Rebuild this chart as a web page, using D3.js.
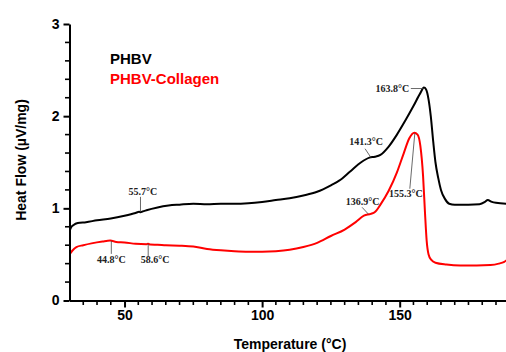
<!DOCTYPE html>
<html>
<head>
<meta charset="utf-8">
<script src="https://cdn.jsdelivr.net/npm/d3@7"></script>
<style>
  html, body { margin: 0; padding: 0; background: #fff; }
  svg { display: block; }
</style>
</head>
<body>
<svg id="chart" width="506" height="352"></svg>
<script>
// ---- data ----
const phbvT = [30, 30.5, 31.5, 33, 36, 40, 45, 50, 54, 55.3, 55.8, 56.5, 58, 62, 66, 70, 75, 80, 85, 90, 95, 100, 105, 110, 115, 120, 125, 128, 132, 136, 139, 141, 143, 146, 149, 152, 155, 157.5, 158.8, 159.6, 160.5, 161.3, 162.2, 163, 164, 165, 166.5, 168, 170, 175, 179, 181, 182, 183.5, 185, 189];
const phbvV = [0.75, 0.79, 0.82, 0.84, 0.85, 0.87, 0.89, 0.92, 0.95, 0.962, 0.958, 0.965, 0.98, 1.01, 1.03, 1.04, 1.05, 1.045, 1.05, 1.05, 1.056, 1.07, 1.09, 1.11, 1.14, 1.18, 1.25, 1.30, 1.40, 1.50, 1.55, 1.56, 1.58, 1.67, 1.80, 1.95, 2.11, 2.25, 2.31, 2.29, 2.18, 2.0, 1.72, 1.50, 1.33, 1.20, 1.10, 1.05, 1.04, 1.04, 1.045, 1.07, 1.09, 1.07, 1.06, 1.05];

const collT = [30, 31, 32.5, 35, 38, 42, 44.8, 47, 50, 54, 58, 58.6, 59.3, 62, 65, 70, 75, 80, 85, 90, 95, 100, 105, 110, 115, 120, 125, 130, 134, 137, 139.5, 141, 143, 146, 149, 151.5, 153.5, 155.3, 156.5, 157.5, 158.5, 159.2, 159.8, 160.5, 161.5, 163, 167, 172, 178, 183, 186, 188, 189];
const collV = [0.50, 0.54, 0.58, 0.60, 0.62, 0.64, 0.65, 0.635, 0.63, 0.615, 0.61, 0.617, 0.608, 0.605, 0.60, 0.595, 0.585, 0.56, 0.545, 0.535, 0.53, 0.53, 0.535, 0.55, 0.58, 0.625, 0.70, 0.77, 0.85, 0.92, 0.94, 0.96, 1.04, 1.19, 1.39, 1.60, 1.76, 1.82, 1.80, 1.68, 1.35, 0.95, 0.65, 0.50, 0.44, 0.41, 0.39, 0.38, 0.38, 0.385, 0.40, 0.42, 0.44];

const seriesNames = ["PHBV", "PHBV-Collagen"];
const xMajorTicks = [50, 100, 150];
const yMajorTicks = [0, 1, 2, 3];

const annLabels = ["55.7°C", "44.8°C", "58.6°C", "141.3°C", "163.8°C", "136.9°C", "155.3°C"];
const annT = [55.8, 45.2, 58.6, 139.6, 158.6, 138.7, 155.5];
const annV = [0.965, 0.647, 0.614, 1.549, 2.30, 0.935, 1.815];

// ---- layout ----
const W = 506, H = 352;
const svg = d3.select("#chart");
const x = d3.scaleLinear().domain([30, 189]).range([69.5, 507]);
const y = d3.scaleLinear().domain([0, 3]).range([300.5, 24]);

// annotation offsets (leader end dx,dy ; text dx,dy ; anchor)
const annLayout = [
  {lx: 0, ly: -14.7, tx: 2.5, ty: -17, a: "middle"},
  {lx: 0, ly: 13, tx: 0, ty: 22, a: "middle"},
  {lx: 0, ly: 13, tx: 7, ty: 19, a: "middle"},
  {lx: -6, ly: -9, tx: -5, ty: -12.5, a: "middle"},
  {lx: -12.5, ly: 0, tx: -14, ty: 3, a: "end"},
  {lx: -6.5, ly: -7, tx: -6, ty: -9.5, a: "middle"},
  {lx: -5, ly: 55.5, tx: -9, ty: 63.5, a: "middle"}
];

const font = "'Liberation Sans', Arial, sans-serif";

// curves
svg.append("clipPath").attr("id", "clip")
  .append("rect").attr("x", 69).attr("y", 0).attr("width", W - 69).attr("height", 301);

const line = d3.line().x(d => x(d[0])).y(d => y(d[1])).curve(d3.curveMonotoneX);
const g = svg.append("g").attr("clip-path", "url(#clip)");
g.append("path").datum(phbvT.map((t, i) => [t, phbvV[i]]))
  .attr("d", line).attr("fill", "none").attr("stroke", "#000").attr("stroke-width", 2)
  .attr("stroke-linejoin", "round");
g.append("path").datum(collT.map((t, i) => [t, collV[i]]))
  .attr("d", line).attr("fill", "none").attr("stroke", "#ff0000").attr("stroke-width", 2)
  .attr("stroke-linejoin", "round");

// annotations
annLabels.forEach((lab, i) => {
  const ax = x(annT[i]), ay = y(annV[i]);
  const L = annLayout[i];
  svg.append("line")
    .attr("x1", ax).attr("y1", ay).attr("x2", ax + L.lx).attr("y2", ay + L.ly)
    .attr("stroke", "#444").attr("stroke-width", 0.8);
  svg.append("text")
    .attr("x", ax + L.tx).attr("y", ay + L.ty)
    .attr("text-anchor", L.a)
    .attr("font-family", "'Liberation Serif', 'Times New Roman', serif")
    .attr("font-size", 10).attr("font-weight", "bold").attr("fill", "#222")
    .text(lab);
});

// axes
const xMinor = d3.range(35, 189, 5).filter(v => !xMajorTicks.includes(v));
const yMinor = d3.range(1, 15).map(k => k * 0.2).filter(v => Math.abs(v - Math.round(v)) > 1e-6);

const xAxis = svg.append("g").attr("transform", `translate(0,${y(0)})`);
xAxis.call(d3.axisBottom(x).tickValues(xMajorTicks).tickSize(7).tickSizeOuter(0).tickPadding(3));
xAxis.select(".domain").attr("stroke-width", 2);
xAxis.selectAll(".tick line").attr("stroke-width", 2);
xAxis.selectAll(".tick text").attr("font-family", font).attr("font-size", 14).attr("font-weight", "bold").attr("fill", "#000");
xAxis.selectAll(".minor").data(xMinor).enter().append("line")
  .attr("x1", d => x(d)).attr("x2", d => x(d)).attr("y1", 0).attr("y2", 4.5)
  .attr("stroke", "#000").attr("stroke-width", 1.6);

const yAxis = svg.append("g").attr("transform", `translate(${x(30)},0)`);
yAxis.call(d3.axisLeft(y).tickValues(yMajorTicks).tickFormat(d3.format("d")).tickSize(6).tickSizeOuter(0).tickPadding(4));
yAxis.select(".domain").attr("stroke-width", 2);
yAxis.selectAll(".tick line").attr("stroke-width", 2);
yAxis.selectAll(".tick text").attr("font-family", font).attr("font-size", 14).attr("font-weight", "bold").attr("fill", "#000");
yAxis.selectAll(".minor").data(yMinor).enter().append("line")
  .attr("y1", d => y(d)).attr("y2", d => y(d)).attr("x1", 0).attr("x2", -4.5)
  .attr("stroke", "#000").attr("stroke-width", 1.6);

// titles
svg.append("text").attr("x", 290).attr("y", 348.5).attr("text-anchor", "middle")
  .attr("font-family", font).attr("font-size", 14).attr("font-weight", "bold")
  .text("Temperature (°C)");
svg.append("text").attr("transform", "translate(25.5,160) rotate(-90)").attr("text-anchor", "middle")
  .attr("font-family", font).attr("font-size", 14).attr("font-weight", "bold")
  .text("Heat Flow (µV/mg)");

// legend
const legColors = ["#000", "#ff0000"];
seriesNames.forEach((n, i) => {
  svg.append("text").attr("x", 110).attr("y", 63.5 + i * 20)
    .attr("font-family", font).attr("font-size", 15).attr("font-weight", "bold")
    .attr("fill", legColors[i]).text(n);
});
</script>
</body>
</html>
